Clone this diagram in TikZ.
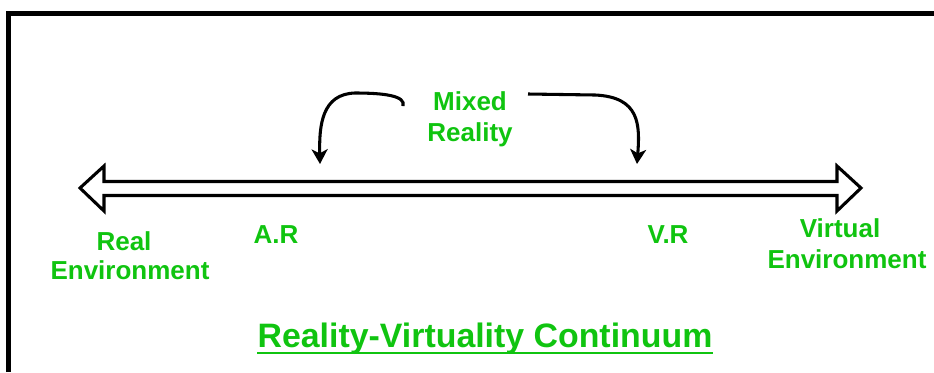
\documentclass[tikz,border=0pt]{standalone}
\usepackage{fontspec}
\setmainfont{Liberation Sans}
\usetikzlibrary{arrows.meta}
\definecolor{labelgreen}{RGB}{16,196,16}
\tikzset{
  lbl/.style={font=\bfseries\fontsize{19.5}{23}\selectfont, text=labelgreen, inner sep=0pt, anchor=base},
  curl/.style={line width=2.3pt, -{Stealth[length=11pt,width=12pt,inset=3pt]}},
}
\begin{document}
\begin{tikzpicture}[x=0.75pt,y=-0.75pt]
\useasboundingbox (0,0) rectangle (934,372);
\draw[line width=3.75pt] (8.5,372) -- (8.5,13.5) -- (934,13.5);
\draw[line width=2.3pt,line join=miter] (80,188) -- (104,166) -- (104,181.5) -- (837,181.5) -- (837,166) -- (861,188) -- (837,211) -- (837,195.5) -- (104,195.5) -- (104,211) -- cycle;
\node[lbl] (mixed) at (470,110) {Mixed};
\node[lbl] (reality) at (470,141) {Reality};
\node[lbl] (real) at (124,250) {Real};
\node[lbl] (realenv) at (130,279) {Environment};
\node[lbl] (ar) at (276,243) {A.R};
\node[lbl] (vr) at (668,243) {V.R};
\node[lbl] (virtual) at (840,237) {Virtual};
\node[lbl] (virtenv) at (847,268) {Environment};
\node[lbl,font=\bfseries\fontsize{25.4}{30}\selectfont] (title) at (485,347) {Reality-Virtuality Continuum};
\draw[labelgreen,line width=2.2pt] ([yshift=-4.5pt]title.base west) -- ([yshift=-4.5pt]title.base east);
\coordinate (lstart) at (403,106);
\coordinate (ltip) at (320,164);
\coordinate (rstart) at (528,94);
\coordinate (rtip) at (637,164);
\draw[curl] (lstart) .. controls (406,96) and (385,93) .. (355,93) .. controls (322,94) and (319,125) .. (ltip);
\draw[curl] (rstart) -- (595,95) .. controls (640,97) and (640,125) .. (rtip);
\end{tikzpicture}
\end{document}
